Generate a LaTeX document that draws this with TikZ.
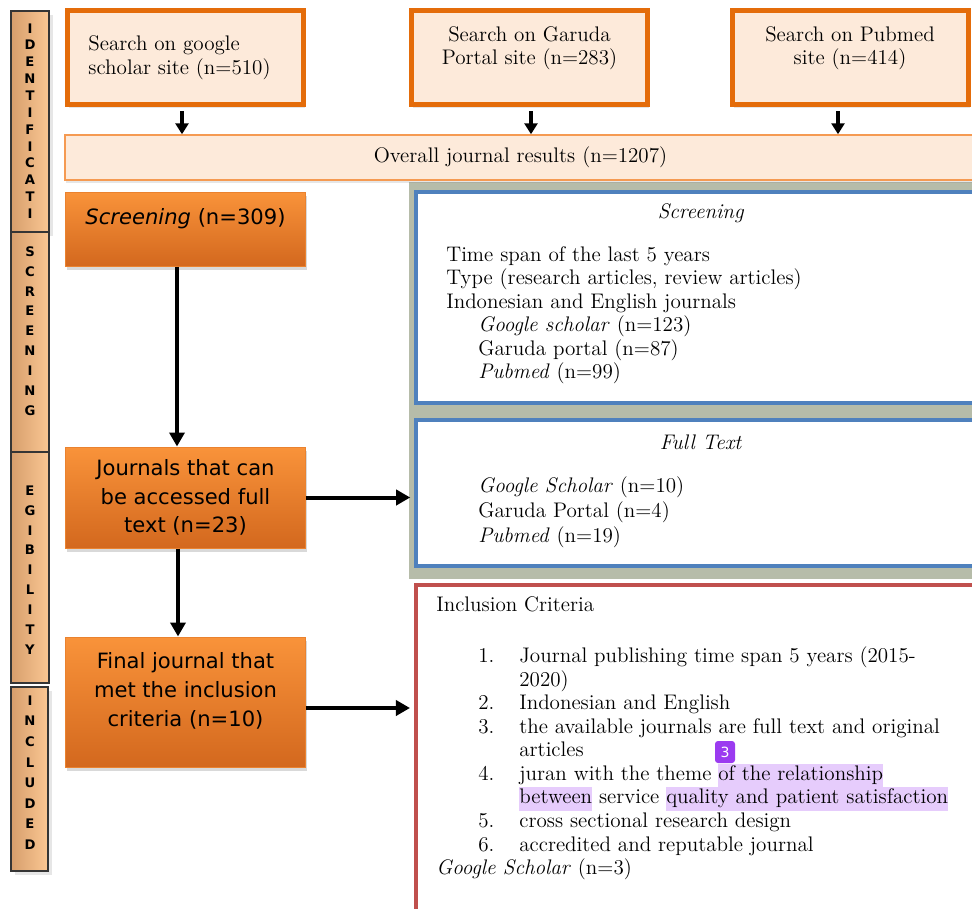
\documentclass[tikz,border=0pt]{standalone}
\usepackage{fontspec}
\usepackage{xcolor}
\usetikzlibrary{arrows.meta,shadows}
\newfontfamily\boxsans{DejaVu Sans}
\definecolor{peach}{HTML}{FDEADA}
\definecolor{deeporange}{HTML}{E46C0A}
\definecolor{lightorange}{HTML}{F59A52}
\definecolor{ortop}{HTML}{F9933A}
\definecolor{orbot}{HTML}{D3681E}
\definecolor{sidefill}{HTML}{FBC793}
\definecolor{sidedark}{HTML}{D69E6C}
\definecolor{sideline}{HTML}{353535}
\definecolor{boxblue}{HTML}{4F81BD}
\definecolor{boxred}{HTML}{C0504D}
\definecolor{halo}{HTML}{A4AB94}
\definecolor{hilite}{HTML}{E6CCFC}
\definecolor{badge}{HTML}{9B3BF0}
\newcommand{\hlt}[1]{{\setlength{\fboxsep}{0pt}\colorbox{hilite}{\strut #1}}}

\begin{document}
\begin{tikzpicture}[x=0.2mm, y=-0.2mm, font=\fontsize{12}{13.4}\selectfont,
  arr/.style={line width=0.8mm, -{Triangle[width=3mm,length=2.8mm]}},
  toparr/.style={line width=0.7mm, -{Triangle[width=2.6mm,length=2.2mm]}, shorten <=0.8mm},
  searchbox/.style={draw=deeporange, line width=1mm, fill=peach, minimum width=47.2mm, minimum height=18.8mm,
    drop shadow={opacity=0.2, shadow xshift=0.3mm, shadow yshift=-0.6mm}},
  stagebox/.style={top color=ortop, bottom color=orbot, draw=ortop!60!orbot, line width=0.2mm,
    minimum width=47.8mm, align=center, font=\boxsans\fontsize{12}{16.4}\selectfont,
    drop shadow={opacity=0.3, shadow xshift=0.3mm, shadow yshift=-0.8mm}},
  sidebox/.style={draw=sideline, line width=0.4mm, left color=sidedark, middle color=sidefill, right color=sidefill},
  sidetext/.style={font=\boxsans\bfseries\fontsize{7.5}{#1}\selectfont, align=center, inner sep=0},
  infobox/.style={fill=white, line width=0.7mm, minimum width=116.8mm},
  badgebox/.style={fill=badge, text=white, rounded corners=0.6mm, inner sep=0, minimum width=4mm,
    minimum height=4.4mm, font=\boxsans\fontsize{8}{9}\selectfont}
]
\useasboundingbox (0,0) rectangle (972,909);

\fill[halo, opacity=0.8] (409,182) rectangle (1000,579);
\node[infobox, draw=boxblue, minimum height=42.2mm] (screenbox) at (708,297.5) {};
\node[infobox, draw=boxblue, minimum height=29.2mm] (fullbox) at (708,493) {};
\node[infobox, draw=boxred, line width=0.8mm, minimum height=73mm] (inclbox) at (708,767) {};

\node (screenhead) at (701,213) {\textit{Screening}};
\node[anchor=north west, align=left, inner sep=0] (screenlist) at (446,246) {Time span of the last 5 years\\
  Type (research articles, review articles)\\ Indonesian and English journals\\
  \hspace*{6.4mm}\textit{Google scholar} (n=123)\\ \hspace*{6.4mm}Garuda portal (n=87)\\
  \hspace*{6.4mm}\textit{Pubmed} (n=99)};
\node (fullhead) at (701,442) {\textit{Full Text}};
\node[anchor=north west, align=left, inner sep=0, font=\fontsize{12}{14.2}\selectfont] (fulllist) at (478,476)
  {\textit{Google Scholar} (n=10)\\ Garuda Portal (n=4)\\ \textit{Pubmed} (n=19)};
\node[anchor=north west, inner sep=0] (incltext) at (436,595) {%
  \begin{tabular}[t]{@{}p{8.4mm}@{}p{8.2mm}@{}l@{}}
  \multicolumn{3}{@{}l@{}}{Inclusion Criteria}\\[15.5pt]
   & 1. & Journal publishing time span 5 years (2015-\\
   &    & 2020)\\
   & 2. & Indonesian and English\\
   & 3. & the available journals are full text and original\\
   &    & articles\\
   & 4. & juran with the theme \hlt{of the relationship}\\
   &    & \hlt{between} service \hlt{quality and patient satisfaction}\\
   & 5. & cross sectional research design\\
   & 6. & accredited and reputable journal\\
  \multicolumn{3}{@{}l@{}}{\textit{Google Scholar} (n=3)}
  \end{tabular}};
\node[badgebox] (badge) at (725,752) {3};

\node[stagebox, minimum height=14.8mm] (screen) at (185.5,229) {\textit{Screening} (n=309)\\[-2pt]\mbox{}};
\node[stagebox, minimum height=20.2mm] (access) at (185.5,497.5) {Journals that can\\be accessed full\\text (n=23)};
\node[stagebox, minimum height=26mm] (final) at (185.5,702) {Final journal that\\met the inclusion\\criteria (n=10)\\[-2pt]\mbox{}};

\draw[arr] ([xshift=-1.7mm]screen.south) -- ([xshift=-1.7mm]access.north);
\draw[arr] ([xshift=-1.5mm]access.south) -- ([xshift=-1.5mm]final.north);
\draw[arr, shorten >=0.8mm] (access.east) -- (access.east -| fullbox.west);
\draw[arr, shorten >=0.8mm] ([yshift=-1.2mm]final.east) -- ([yshift=-1.2mm]final.east -| inclbox.west);

\draw[sidebox, drop shadow={opacity=0.2}] (11,11) rectangle (49,232);
\draw[sidebox] (11,232) rectangle (49,452);
\draw[sidebox] (11,452) rectangle (49,683);
\draw[sidebox, drop shadow={opacity=0.2}] (11,687) rectangle (48,871);
\node[sidetext=9.6pt] (sideid) at (30,121) {I\\D\\E\\N\\T\\I\\F\\I\\C\\A\\T\\I};
\node[sidetext=11.3pt] (sidescr) at (30,331) {S\\C\\R\\E\\E\\N\\I\\N\\G};
\node[sidetext=11.3pt] (sideelig) at (30,570) {E\\G\\I\\B\\I\\L\\I\\T\\Y};
\node[sidetext=11.7pt] (sideincl) at (30,772.5) {I\\N\\C\\L\\U\\D\\E\\D};

\node[draw=lightorange, line width=0.3mm, fill=peach, minimum width=182.2mm, minimum height=9mm,
  drop shadow={opacity=0.2, shadow xshift=0.2mm, shadow yshift=-0.5mm}] (overall) at (520.5,157.5)
  {Overall journal results (n=1207)};
\node[searchbox, align=left] (google) at (185.5,57.5) {Search on google\\scholar site (n=510)\hspace*{2.4mm}};
\node[searchbox, align=center] (garuda) at (529.5,57.5) {Search on Garuda\\Portal site (n=283)\\\mbox{}};
\node[searchbox, align=center] (pubmed) at (850,57.5) {Search on Pubmed\\site (n=414)\\\mbox{}};

\draw[toparr] ([xshift=-0.7mm]google.south) -- ([xshift=-0.7mm]google.south |- overall.north);
\draw[toparr] ([xshift=0.3mm]garuda.south) -- ([xshift=0.3mm]garuda.south |- overall.north);
\draw[toparr] ([xshift=-2.4mm]pubmed.south) -- ([xshift=-2.4mm]pubmed.south |- overall.north);
\end{tikzpicture}
\end{document}
